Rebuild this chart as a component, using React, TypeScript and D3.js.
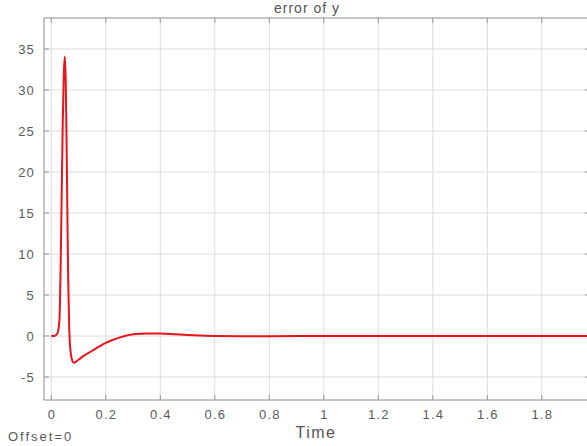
import React from "react";
import * as d3 from "d3";

// signal
const timeValues = [
  0, 0.01, 0.02, 0.025, 0.03, 0.034, 0.038, 0.042, 0.046, 0.05, 0.053, 0.056,
  0.059, 0.062, 0.065, 0.068, 0.072, 0.076, 0.08, 0.085, 0.09, 0.1, 0.12, 0.15,
  0.18, 0.2, 0.22, 0.25, 0.28, 0.3, 0.35, 0.4, 0.45, 0.5, 0.55, 0.6, 0.7, 0.8,
  1.0, 1.2, 1.5, 2.0,
];
const errorValues = [
  0, 0, 0.2, 0.6, 2, 8, 17, 26, 32, 34.1, 31, 24, 15, 7, 2, -0.8, -2.2, -2.9,
  -3.2, -3.25, -3.15, -2.9, -2.4, -1.8, -1.2, -0.85, -0.55, -0.2, 0.1, 0.2,
  0.32, 0.3, 0.22, 0.12, 0.05, 0, -0.03, -0.02, 0, 0, 0, 0,
];
const xTicks = [0, 0.2, 0.4, 0.6, 0.8, 1, 1.2, 1.4, 1.6, 1.8, 2];
const xTickLabels = ["0", "0.2", "0.4", "0.6", "0.8", "1", "1.2", "1.4", "1.6", "1.8"];
const yTicks = [-5, 0, 5, 10, 15, 20, 25, 30, 35];

const width = 587;
const height = 446;
const plot = { left: 44, right: 590, top: 18, bottom: 400 };
const font = "'Liberation Sans', Arial, Helvetica, sans-serif";

const App: React.FC = () => {
  const x = d3.scaleLinear().domain([0, 2]).range([51.3, 596.3]);
  const y = d3
    .scaleLinear()
    .domain([0, 35])
    .range([336, 336 - 35 * 8.2]);

  const points = timeValues.map((t, i) => [t, errorValues[i]] as [number, number]);
  const line = d3
    .line<[number, number]>()
    .x((d) => x(d[0]))
    .y((d) => y(d[1]))
    .curve(d3.curveMonotoneX);

  return (
    <svg
      width={width}
      height={height}
      style={{ position: "absolute", left: 0, top: 0, background: "#fff" }}
    >
      <defs>
        <clipPath id="plotArea">
          <rect
            x={plot.left}
            y={plot.top}
            width={plot.right - plot.left}
            height={plot.bottom - plot.top}
          />
        </clipPath>
      </defs>

      {/* grid */}
      {xTicks.map((t) => (
        <line
          key={"gx" + t}
          x1={x(t)}
          x2={x(t)}
          y1={plot.top}
          y2={plot.bottom}
          stroke="#dcdcdc"
          strokeWidth={1}
        />
      ))}
      {yTicks.map((v) => (
        <line
          key={"gy" + v}
          x1={plot.left}
          x2={plot.right}
          y1={y(v)}
          y2={y(v)}
          stroke="#dcdcdc"
          strokeWidth={1}
        />
      ))}

      {/* tick marks */}
      {xTicks.map((t) => (
        <g key={"tx" + t} stroke="#999" strokeWidth={1}>
          <line x1={x(t)} x2={x(t)} y1={plot.bottom} y2={plot.bottom - 5} />
          <line x1={x(t)} x2={x(t)} y1={plot.top} y2={plot.top + 5} />
        </g>
      ))}
      {yTicks.map((v) => (
        <g key={"ty" + v} stroke="#999" strokeWidth={1}>
          <line x1={plot.left} x2={plot.left + 5} y1={y(v)} y2={y(v)} />
          <line x1={plot.right} x2={plot.right - 5} y1={y(v)} y2={y(v)} />
        </g>
      ))}

      {/* axes box */}
      <rect
        x={plot.left}
        y={plot.top}
        width={plot.right - plot.left}
        height={plot.bottom - plot.top}
        fill="none"
        stroke="#8c8c8c"
        strokeWidth={1}
      />

      <path
        d={line(points) || ""}
        fill="none"
        stroke="#e8141b"
        strokeWidth={2}
        clipPath="url(#plotArea)"
      />

      {/* tick labels */}
      {xTickLabels.map((label, i) => (
        <text
          key={"lx" + label}
          x={x(xTicks[i]) + 0.6}
          y={419}
          textAnchor="middle"
          fontFamily={font}
          fontSize={13}
          letterSpacing={1.3}
          fill="#5a5a5a"
        >
          {label}
        </text>
      ))}
      {yTicks.map((v) => (
        <text
          key={"ly" + v}
          x={35}
          y={y(v) + 4.5}
          textAnchor="end"
          fontFamily={font}
          fontSize={13}
          letterSpacing={1.2}
          fill="#5a5a5a"
        >
          {v}
        </text>
      ))}

      <text
        x={307}
        y={13}
        textAnchor="middle"
        fontFamily={font}
        fontSize={14}
        letterSpacing={1}
        fill="#555"
      >
        error of y
      </text>
      <text
        x={316}
        y={437.5}
        textAnchor="middle"
        fontFamily={font}
        fontSize={16}
        letterSpacing={1.5}
        fill="#555"
      >
        Time
      </text>
      <text
        x={8}
        y={440.5}
        fontFamily={font}
        fontSize={13}
        letterSpacing={2}
        fill="#5a5a5a"
      >
        Offset=0
      </text>
    </svg>
  );
};

export default App;
